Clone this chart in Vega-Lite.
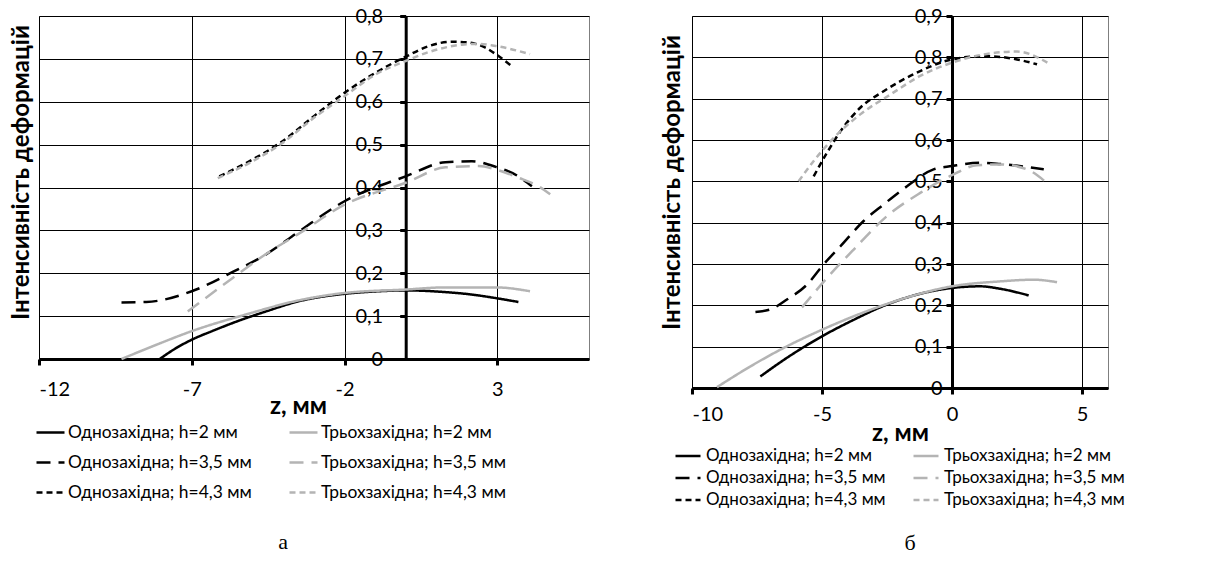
{
  "$schema": "https://vega.github.io/schema/vega-lite/v6.json",
  "background": "white",
  "padding": {"left": 9, "top": 5, "right": 0, "bottom": 0},
  "spacing": 69,
  "config": {
    "font": "Lato",
    "view": {"stroke": "#7f7f7f", "strokeWidth": 1},
    "axis": {"grid": true, "gridColor": "#000", "gridWidth": 1, "gridOpacity": 1, "domainColor": "#000", "domainWidth": 3, "tickColor": "#000", "tickWidth": 3, "tickSize": 6, "labelColor": "#000", "labelFontSize": 20, "labelFont": "Lato", "titleColor": "#000", "titleFontSize": 24, "titleFontWeight": "bold", "titleFont": "Lato"},
    "line": {"interpolate": "monotone", "strokeCap": "butt"},
    "legend": {"labelFont": "Lato", "labelColor": "#000", "labelLimit": 0}
  },
  "resolve": {
    "scale": {"color": "independent", "strokeDash": "independent", "strokeWidth": "independent"},
    "legend": {"color": "independent", "strokeDash": "independent", "strokeWidth": "independent"}
  },
  "hconcat": [
    {
      "width": 550,
      "height": 343,
      "title": {"text": "а", "orient": "bottom", "font": "Liberation Serif", "fontSize": 22, "fontWeight": "normal", "color": "#000", "dx": -31, "offset": 31},
      "data": {"values": [
        {"s": "Однозахідна; h=2 мм", "z": -8.05, "v": 0},
        {"s": "Однозахідна; h=2 мм", "z": -7.5, "v": 0.026},
        {"s": "Однозахідна; h=2 мм", "z": -7, "v": 0.045},
        {"s": "Однозахідна; h=2 мм", "z": -6.3, "v": 0.066},
        {"s": "Однозахідна; h=2 мм", "z": -5.66, "v": 0.084},
        {"s": "Однозахідна; h=2 мм", "z": -4.57, "v": 0.111},
        {"s": "Однозахідна; h=2 мм", "z": -3.48, "v": 0.135},
        {"s": "Однозахідна; h=2 мм", "z": -2, "v": 0.152},
        {"s": "Однозахідна; h=2 мм", "z": -0.87, "v": 0.158},
        {"s": "Однозахідна; h=2 мм", "z": 0, "v": 0.16},
        {"s": "Однозахідна; h=2 мм", "z": 1.3, "v": 0.156},
        {"s": "Однозахідна; h=2 мм", "z": 2.2, "v": 0.15},
        {"s": "Однозахідна; h=2 мм", "z": 2.95, "v": 0.142},
        {"s": "Однозахідна; h=2 мм", "z": 3.69, "v": 0.133},
        {"s": "Трьохзахідна; h=2 мм", "z": -9.3, "v": 0},
        {"s": "Трьохзахідна; h=2 мм", "z": -8.2, "v": 0.032},
        {"s": "Трьохзахідна; h=2 мм", "z": -7, "v": 0.065},
        {"s": "Трьохзахідна; h=2 мм", "z": -5.22, "v": 0.104},
        {"s": "Трьохзахідна; h=2 мм", "z": -3.48, "v": 0.137},
        {"s": "Трьохзахідна; h=2 мм", "z": -2, "v": 0.154},
        {"s": "Трьохзахідна; h=2 мм", "z": 0, "v": 0.162},
        {"s": "Трьохзахідна; h=2 мм", "z": 1.3, "v": 0.167},
        {"s": "Трьохзахідна; h=2 мм", "z": 2.95, "v": 0.167},
        {"s": "Трьохзахідна; h=2 мм", "z": 4.07, "v": 0.158},
        {"s": "Однозахідна; h=3,5 мм", "z": -9.3, "v": 0.132},
        {"s": "Однозахідна; h=3,5 мм", "z": -8.49, "v": 0.133},
        {"s": "Однозахідна; h=3,5 мм", "z": -7, "v": 0.158},
        {"s": "Однозахідна; h=3,5 мм", "z": -5.66, "v": 0.203},
        {"s": "Однозахідна; h=3,5 мм", "z": -4.57, "v": 0.244},
        {"s": "Однозахідна; h=3,5 мм", "z": -3.48, "v": 0.298},
        {"s": "Однозахідна; h=3,5 мм", "z": -2, "v": 0.368},
        {"s": "Однозахідна; h=3,5 мм", "z": 0, "v": 0.426},
        {"s": "Однозахідна; h=3,5 мм", "z": 1.3, "v": 0.459},
        {"s": "Однозахідна; h=3,5 мм", "z": 2.17, "v": 0.461},
        {"s": "Однозахідна; h=3,5 мм", "z": 2.95, "v": 0.448},
        {"s": "Однозахідна; h=3,5 мм", "z": 3.69, "v": 0.426},
        {"s": "Однозахідна; h=3,5 мм", "z": 4.13, "v": 0.403},
        {"s": "Трьохзахідна; h=3,5 мм", "z": -7.13, "v": 0.111},
        {"s": "Трьохзахідна; h=3,5 мм", "z": -5.66, "v": 0.189},
        {"s": "Трьохзахідна; h=3,5 мм", "z": -4.57, "v": 0.245},
        {"s": "Трьохзахідна; h=3,5 мм", "z": -3.48, "v": 0.293},
        {"s": "Трьохзахідна; h=3,5 мм", "z": -2, "v": 0.36},
        {"s": "Трьохзахідна; h=3,5 мм", "z": 0, "v": 0.411},
        {"s": "Трьохзахідна; h=3,5 мм", "z": 1.3, "v": 0.447},
        {"s": "Трьохзахідна; h=3,5 мм", "z": 2.39, "v": 0.45},
        {"s": "Трьохзахідна; h=3,5 мм", "z": 2.95, "v": 0.442},
        {"s": "Трьохзахідна; h=3,5 мм", "z": 3.69, "v": 0.423},
        {"s": "Трьохзахідна; h=3,5 мм", "z": 4.39, "v": 0.401},
        {"s": "Трьохзахідна; h=3,5 мм", "z": 4.73, "v": 0.384},
        {"s": "Однозахідна; h=4,3 мм", "z": -6.1, "v": 0.426},
        {"s": "Однозахідна; h=4,3 мм", "z": -5.12, "v": 0.461},
        {"s": "Однозахідна; h=4,3 мм", "z": -4.03, "v": 0.508},
        {"s": "Однозахідна; h=4,3 мм", "z": -2.94, "v": 0.57},
        {"s": "Однозахідна; h=4,3 мм", "z": -2, "v": 0.621},
        {"s": "Однозахідна; h=4,3 мм", "z": -0.98, "v": 0.668},
        {"s": "Однозахідна; h=4,3 мм", "z": 0, "v": 0.705},
        {"s": "Однозахідна; h=4,3 мм", "z": 0.76, "v": 0.73},
        {"s": "Однозахідна; h=4,3 мм", "z": 1.52, "v": 0.74},
        {"s": "Однозахідна; h=4,3 мм", "z": 2.07, "v": 0.738},
        {"s": "Однозахідна; h=4,3 мм", "z": 2.61, "v": 0.726},
        {"s": "Однозахідна; h=4,3 мм", "z": 2.95, "v": 0.711},
        {"s": "Однозахідна; h=4,3 мм", "z": 3.47, "v": 0.683},
        {"s": "Трьохзахідна; h=4,3 мм", "z": -6.15, "v": 0.422},
        {"s": "Трьохзахідна; h=4,3 мм", "z": -5.12, "v": 0.457},
        {"s": "Трьохзахідна; h=4,3 мм", "z": -4.03, "v": 0.504},
        {"s": "Трьохзахідна; h=4,3 мм", "z": -2.94, "v": 0.566},
        {"s": "Трьохзахідна; h=4,3 мм", "z": -2, "v": 0.613},
        {"s": "Трьохзахідна; h=4,3 мм", "z": -0.98, "v": 0.664},
        {"s": "Трьохзахідна; h=4,3 мм", "z": 0, "v": 0.695},
        {"s": "Трьохзахідна; h=4,3 мм", "z": 0.76, "v": 0.716},
        {"s": "Трьохзахідна; h=4,3 мм", "z": 1.84, "v": 0.733},
        {"s": "Трьохзахідна; h=4,3 мм", "z": 2.39, "v": 0.735},
        {"s": "Трьохзахідна; h=4,3 мм", "z": 2.95, "v": 0.73},
        {"s": "Трьохзахідна; h=4,3 мм", "z": 4.07, "v": 0.711}
      ]},
      "mark": {"type": "line"},
      "encoding": {
        "x": {"field": "z", "type": "quantitative", "scale": {"domain": [-12, 6], "nice": false, "zero": false},
          "axis": {"values": [-12, -7, -2, 3], "labelExpr": "'' + datum.value", "title": "z, мм", "titleX": 259, "titleY": 47, "titleBaseline": "middle", "labelPadding": 14}},
        "y": {"field": "v", "type": "quantitative", "scale": {"domain": [0, 0.8], "nice": false},
          "axis": {"values": [0, 0.1, 0.2, 0.3, 0.4, 0.5, 0.6, 0.7, 0.8], "offset": -366.7, "labelPadding": 17,
            "labelExpr": "datum.value == 0 ? '0' : replace(format(datum.value, '.1f'), '.', ',')",
            "title": "Інтенсивність деформацій", "titleX": -384, "titleY": 156, "titleBaseline": "middle", "titleAlign": "center"}},
        "color": {"field": "s", "type": "nominal",
          "scale": {"domain": ["Однозахідна; h=2 мм", "Однозахідна; h=3,5 мм", "Однозахідна; h=4,3 мм", "Трьохзахідна; h=2 мм", "Трьохзахідна; h=3,5 мм", "Трьохзахідна; h=4,3 мм"],
            "range": ["#000000", "#000000", "#000000", "#b4b4b4", "#b4b4b4", "#b4b4b4"]},
          "legend": {"orient": "none", "legendX": -4, "legendY": 401, "columns": 2, "title": null, "labelFontSize": 17.4, "symbolType": "stroke", "symbolSize": 784, "labelOffset": 2, "columnPadding": 32, "rowPadding": 6}},
        "strokeDash": {"field": "s", "type": "nominal",
          "scale": {"domain": ["Однозахідна; h=2 мм", "Однозахідна; h=3,5 мм", "Однозахідна; h=4,3 мм", "Трьохзахідна; h=2 мм", "Трьохзахідна; h=3,5 мм", "Трьохзахідна; h=4,3 мм"],
            "range": [[1, 0], [14, 8], [6, 4], [1, 0], [14, 8], [6, 4]]}},
        "strokeWidth": {"field": "s", "type": "nominal",
          "scale": {"domain": ["Однозахідна; h=2 мм", "Однозахідна; h=3,5 мм", "Однозахідна; h=4,3 мм", "Трьохзахідна; h=2 мм", "Трьохзахідна; h=3,5 мм", "Трьохзахідна; h=4,3 мм"],
            "range": [2.5, 2.5, 2.5, 2.5, 2.5, 2.5]}}
      }
    },
    {
      "width": 416,
      "height": 372,
      "title": {"text": "б", "orient": "bottom", "font": "Liberation Serif", "fontSize": 22, "fontWeight": "normal", "color": "#000", "dx": 10, "offset": 25},
      "data": {"values": [
        {"s": "Однозахідна; h=2 мм", "z": -7.37, "v": 0.028},
        {"s": "Однозахідна; h=2 мм", "z": -6.35, "v": 0.073},
        {"s": "Однозахідна; h=2 мм", "z": -5, "v": 0.125},
        {"s": "Однозахідна; h=2 мм", "z": -3.78, "v": 0.165},
        {"s": "Однозахідна; h=2 мм", "z": -2.5, "v": 0.202},
        {"s": "Однозахідна; h=2 мм", "z": -1.22, "v": 0.228},
        {"s": "Однозахідна; h=2 мм", "z": 0, "v": 0.242},
        {"s": "Однозахідна; h=2 мм", "z": 1.09, "v": 0.246},
        {"s": "Однозахідна; h=2 мм", "z": 1.86, "v": 0.24},
        {"s": "Однозахідна; h=2 мм", "z": 2.95, "v": 0.224},
        {"s": "Трьохзахідна; h=2 мм", "z": -9.04, "v": 0.002},
        {"s": "Трьохзахідна; h=2 мм", "z": -7.76, "v": 0.052},
        {"s": "Трьохзахідна; h=2 мм", "z": -6.47, "v": 0.097},
        {"s": "Трьохзахідна; h=2 мм", "z": -5, "v": 0.141},
        {"s": "Трьохзахідна; h=2 мм", "z": -3.27, "v": 0.186},
        {"s": "Трьохзахідна; h=2 мм", "z": -1.99, "v": 0.214},
        {"s": "Трьохзахідна; h=2 мм", "z": 0, "v": 0.246},
        {"s": "Трьохзахідна; h=2 мм", "z": 1.86, "v": 0.258},
        {"s": "Трьохзахідна; h=2 мм", "z": 3.14, "v": 0.262},
        {"s": "Трьохзахідна; h=2 мм", "z": 4.04, "v": 0.256},
        {"s": "Однозахідна; h=3,5 мм", "z": -7.56, "v": 0.184},
        {"s": "Однозахідна; h=3,5 мм", "z": -6.99, "v": 0.19},
        {"s": "Однозахідна; h=3,5 мм", "z": -6.35, "v": 0.214},
        {"s": "Однозахідна; h=3,5 мм", "z": -5.58, "v": 0.25},
        {"s": "Однозахідна; h=3,5 мм", "z": -4.94, "v": 0.299},
        {"s": "Однозахідна; h=3,5 мм", "z": -4.29, "v": 0.343},
        {"s": "Однозахідна; h=3,5 мм", "z": -3.4, "v": 0.404},
        {"s": "Однозахідна; h=3,5 мм", "z": -2.63, "v": 0.444},
        {"s": "Однозахідна; h=3,5 мм", "z": -1.73, "v": 0.488},
        {"s": "Однозахідна; h=3,5 мм", "z": -0.71, "v": 0.529},
        {"s": "Однозахідна; h=3,5 мм", "z": 0, "v": 0.537},
        {"s": "Однозахідна; h=3,5 мм", "z": 1.09, "v": 0.545},
        {"s": "Однозахідна; h=3,5 мм", "z": 1.86, "v": 0.542},
        {"s": "Однозахідна; h=3,5 мм", "z": 3.53, "v": 0.529},
        {"s": "Трьохзахідна; h=3,5 мм", "z": -5.77, "v": 0.195},
        {"s": "Трьохзахідна; h=3,5 мм", "z": -4.81, "v": 0.266},
        {"s": "Трьохзахідна; h=3,5 мм", "z": -3.78, "v": 0.335},
        {"s": "Трьохзахідна; h=3,5 мм", "z": -2.5, "v": 0.416},
        {"s": "Трьохзахідна; h=3,5 мм", "z": -1.22, "v": 0.472},
        {"s": "Трьохзахідна; h=3,5 мм", "z": 0, "v": 0.515},
        {"s": "Трьохзахідна; h=3,5 мм", "z": 0.96, "v": 0.539},
        {"s": "Трьохзахідна; h=3,5 мм", "z": 1.86, "v": 0.541},
        {"s": "Трьохзахідна; h=3,5 мм", "z": 2.88, "v": 0.529},
        {"s": "Трьохзахідна; h=3,5 мм", "z": 3.72, "v": 0.492},
        {"s": "Однозахідна; h=4,3 мм", "z": -5.32, "v": 0.512},
        {"s": "Однозахідна; h=4,3 мм", "z": -4.81, "v": 0.569},
        {"s": "Однозахідна; h=4,3 мм", "z": -4.29, "v": 0.621},
        {"s": "Однозахідна; h=4,3 мм", "z": -3.53, "v": 0.678},
        {"s": "Однозахідна; h=4,3 мм", "z": -2.63, "v": 0.718},
        {"s": "Однозахідна; h=4,3 мм", "z": -1.35, "v": 0.763},
        {"s": "Однозахідна; h=4,3 мм", "z": 0, "v": 0.795},
        {"s": "Однозахідна; h=4,3 мм", "z": 1.22, "v": 0.803},
        {"s": "Однозахідна; h=4,3 мм", "z": 2.5, "v": 0.795},
        {"s": "Однозахідна; h=4,3 мм", "z": 3.27, "v": 0.783},
        {"s": "Трьохзахідна; h=4,3 мм", "z": -5.9, "v": 0.5},
        {"s": "Трьохзахідна; h=4,3 мм", "z": -5.32, "v": 0.549},
        {"s": "Трьохзахідна; h=4,3 мм", "z": -4.55, "v": 0.605},
        {"s": "Трьохзахідна; h=4,3 мм", "z": -3.53, "v": 0.662},
        {"s": "Трьохзахідна; h=4,3 мм", "z": -2.37, "v": 0.71},
        {"s": "Трьохзахідна; h=4,3 мм", "z": -1.22, "v": 0.755},
        {"s": "Трьохзахідна; h=4,3 мм", "z": 0, "v": 0.787},
        {"s": "Трьохзахідна; h=4,3 мм", "z": 1.22, "v": 0.807},
        {"s": "Трьохзахідна; h=4,3 мм", "z": 2.5, "v": 0.814},
        {"s": "Трьохзахідна; h=4,3 мм", "z": 3.78, "v": 0.783}
      ]},
      "mark": {"type": "line"},
      "encoding": {
        "x": {"field": "z", "type": "quantitative", "scale": {"domain": [-10, 6], "nice": false, "zero": false},
          "axis": {"values": [-10, -5, 0, 5], "labelExpr": "'' + datum.value", "title": "z, мм", "titleX": 208, "titleY": 45, "titleBaseline": "middle", "labelPadding": 10}},
        "y": {"field": "v", "type": "quantitative", "scale": {"domain": [0, 0.9], "nice": false},
          "axis": {"values": [0, 0.1, 0.2, 0.3, 0.4, 0.5, 0.6, 0.7, 0.8, 0.9], "offset": -260, "labelPadding": 4,
            "labelExpr": "datum.value == 0 ? '0' : replace(format(datum.value, '.1f'), '.', ',')",
            "title": "Інтенсивність деформацій", "titleX": -280, "titleY": 166, "titleBaseline": "middle", "titleAlign": "center"}},
        "color": {"field": "s", "type": "nominal",
          "scale": {"domain": ["Однозахідна; h=2 мм", "Однозахідна; h=3,5 мм", "Однозахідна; h=4,3 мм", "Трьохзахідна; h=2 мм", "Трьохзахідна; h=3,5 мм", "Трьохзахідна; h=4,3 мм"],
            "range": ["#000000", "#000000", "#000000", "#b4b4b4", "#b4b4b4", "#b4b4b4"]},
          "legend": {"orient": "none", "legendX": -18, "legendY": 426, "columns": 2, "title": null, "labelFontSize": 17, "symbolType": "stroke", "symbolSize": 625, "labelOffset": 4, "columnPadding": 22, "rowPadding": 0}},
        "strokeDash": {"field": "s", "type": "nominal",
          "scale": {"domain": ["Однозахідна; h=2 мм", "Однозахідна; h=3,5 мм", "Однозахідна; h=4,3 мм", "Трьохзахідна; h=2 мм", "Трьохзахідна; h=3,5 мм", "Трьохзахідна; h=4,3 мм"],
            "range": [[1, 0], [14, 8], [6, 4], [1, 0], [14, 8], [6, 4]]}},
        "strokeWidth": {"field": "s", "type": "nominal",
          "scale": {"domain": ["Однозахідна; h=2 мм", "Однозахідна; h=3,5 мм", "Однозахідна; h=4,3 мм", "Трьохзахідна; h=2 мм", "Трьохзахідна; h=3,5 мм", "Трьохзахідна; h=4,3 мм"],
            "range": [2.5, 2.5, 2.5, 2.5, 4, 2.5]}}
      }
    }
  ]
}
